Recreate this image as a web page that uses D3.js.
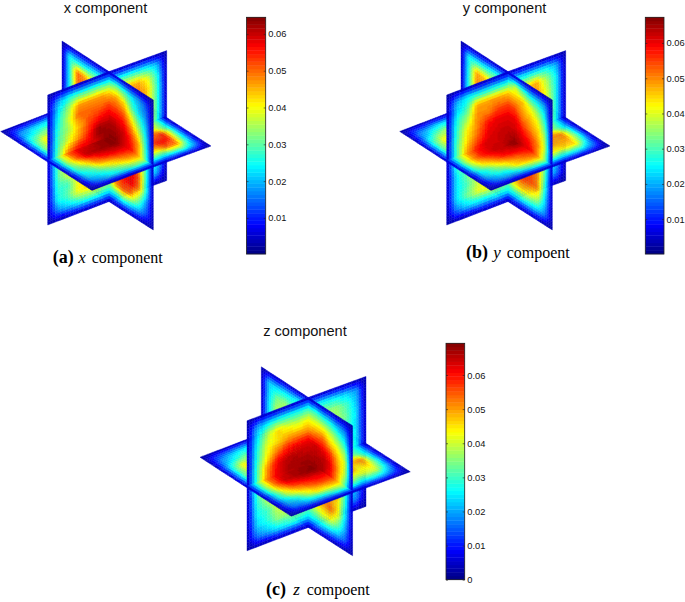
<!DOCTYPE html>
<html><head><meta charset="utf-8">
<script src="https://cdnjs.cloudflare.com/ajax/libs/d3/7.8.5/d3.min.js"></script>
<style>html,body{margin:0;padding:0;background:#fff}svg{display:block}</style>
</head><body><svg id="c" width="685" height="602"></svg>
<script>
const E=[3,3,3,3,3,3,3,3,3,3,3,3,3];
// values in thousandths
const xPlane1=[E,[3,18,25,27,27,27,27,27,27,26,25,20,3],[3,23,34,46,46,47,44,44,44,46,40,26,3],[3,25,36,50,50,50,52,50,50,50,44,28,3],[3,27,34,44,52,56,58,54,50,50,44,28,3],[3,28,38,46,54,64,62,58,52,50,44,28,3],[3,30,48,56,58,60,64,58,54,52,44,28,3],[3,30,46,54,56,60,62,58,54,50,42,27,3],[3,29,38,50,54,56,58,54,50,46,40,27,3],[3,27,28,40,46,50,50,48,46,44,36,25,3],[3,25,30,40,42,42,36,42,40,38,32,23,3],[3,17,21,25,27,27,25,27,25,25,23,18,3],E];
const xPlane2=[E,[3,25,23,23,25,25,27,32,28,23,19,13,3],[3,25,50,46,40,40,44,46,42,30,22,16,3],[3,25,50,50,44,48,52,52,50,40,30,20,3],[3,25,46,50,50,54,58,58,56,48,38,24,3],[3,27,46,50,54,58,62,62,60,54,46,26,3],[3,27,46,52,56,60,64,64,60,56,46,28,3],[3,27,44,50,54,58,62,60,58,56,46,28,3],[3,27,42,48,52,56,58,58,56,58,52,28,3],[3,25,40,46,48,52,50,52,56,58,50,26,3],[3,23,30,38,40,42,36,48,52,48,34,18,3],[3,17,21,23,25,25,25,25,28,25,21,13,3],E];
const xPlane3=[E,[3,15,19,21,23,25,25,25,23,23,21,17,3],[3,21,27,32,30,34,36,36,36,34,30,21,3],[3,27,40,42,44,46,46,46,46,44,36,25,3],[3,30,42,48,50,54,56,56,52,48,40,27,3],[3,30,44,54,58,60,62,60,56,50,40,27,3],[3,30,50,58,60,63,64,58,54,52,44,28,3],[3,32,48,60,62,63,64,60,56,50,38,27,3],[3,29,40,50,56,58,58,56,54,50,54,30,3],[3,25,30,42,46,50,52,50,52,56,54,28,3],[3,21,25,30,36,42,44,42,42,50,48,25,3],[3,15,19,23,25,29,29,27,25,27,28,19,3],E];
const yPlane1=[E,[3,19,25,25,25,25,25,25,25,25,25,20,3],[3,23,30,48,48,48,46,42,44,48,36,25,3],[3,27,36,50,50,54,54,50,46,50,40,26,3],[3,28,42,50,58,60,60,54,48,46,42,26,3],[3,30,44,52,60,62,62,58,52,48,42,26,3],[3,30,48,58,62,62,64,58,54,50,42,26,3],[3,28,36,50,56,60,62,58,54,48,40,26,3],[3,24,32,46,52,54,56,54,50,46,38,25,3],[3,24,30,38,46,48,50,48,46,42,34,23,3],[3,24,32,40,42,40,36,40,38,36,30,21,3],[3,17,22,24,24,26,25,25,25,23,21,17,3],E];
const yPlane2=[E,[3,25,25,25,27,27,28,38,30,24,22,18,3],[3,26,48,46,40,38,46,46,46,40,34,24,3],[3,27,50,48,44,46,54,54,48,46,42,30,3],[3,27,44,48,50,54,60,60,54,50,46,36,3],[3,27,44,48,54,58,62,62,60,56,50,38,3],[3,27,44,50,56,60,64,66,62,60,50,34,3],[3,27,42,48,54,58,62,62,60,58,50,32,3],[3,25,40,46,52,56,56,56,54,56,50,30,3],[3,25,38,44,48,50,50,50,56,54,50,26,3],[3,23,28,36,40,42,36,44,46,42,38,22,3],[3,17,21,23,25,25,25,25,25,25,23,17,3],E];
const yPlane3=[E,[3,15,19,23,23,25,27,25,25,23,23,17,3],[3,20,30,36,32,36,38,36,36,34,30,20,3],[3,28,42,42,44,46,46,46,46,44,36,25,3],[3,30,42,46,50,54,56,56,52,48,40,27,3],[3,30,44,52,58,60,62,60,56,50,40,27,3],[3,30,48,58,62,62,64,58,54,50,42,26,3],[3,34,50,58,62,63,67,62,56,50,34,24,3],[3,30,44,50,58,60,60,58,54,50,50,28,3],[3,24,32,42,48,52,56,54,50,48,48,30,3],[3,20,26,30,42,46,48,46,42,44,44,24,3],[3,14,18,20,24,28,30,28,26,26,24,16,3],E];
const zPlane1=[E,[3,19,25,27,27,27,28,27,27,25,23,19,3],[3,24,38,46,42,40,42,36,36,36,30,22,3],[3,27,42,46,50,50,50,44,38,38,32,24,3],[3,28,44,54,60,62,62,54,44,36,30,24,3],[3,30,50,62,66,66,65,58,48,40,32,24,3],[3,30,52,62,66,67,68,60,50,44,34,26,3],[3,30,46,56,60,64,64,58,50,42,32,24,3],[3,28,38,50,54,56,58,54,46,38,30,24,3],[3,26,30,40,46,50,50,46,42,36,28,22,3],[3,23,28,36,36,38,34,38,36,30,26,20,3],[3,17,21,25,27,27,25,25,25,23,21,17,3],E];
const zPlane2=[E,[3,23,23,25,25,27,28,30,26,24,20,16,3],[3,23,34,36,32,32,42,42,42,38,32,24,3],[3,25,38,38,36,38,50,52,54,46,42,34,3],[3,25,36,38,40,46,62,64,62,58,48,40,3],[3,25,34,40,46,54,65,66,66,62,50,38,3],[3,27,36,42,50,58,68,68,66,60,48,30,3],[3,27,36,42,48,54,64,62,60,58,48,30,3],[3,25,34,40,46,50,56,56,56,50,46,28,3],[3,23,32,38,42,46,46,50,50,54,44,24,3],[3,21,26,32,36,38,34,38,42,42,34,20,3],[3,17,21,23,23,25,25,25,25,23,21,15,3],E];
const zPlane3=[E,[3,15,19,23,25,25,25,25,23,23,21,17,3],[3,20,28,34,30,32,34,34,34,32,28,21,3],[3,28,44,40,42,44,44,44,44,42,34,25,3],[3,30,44,46,50,54,56,56,52,46,38,26,3],[3,32,48,56,60,62,64,60,56,48,38,26,3],[3,30,52,62,66,67,68,60,50,44,34,26,3],[3,32,52,64,66,68,69,60,54,46,34,25,3],[3,28,46,56,60,62,62,58,54,48,52,26,3],[3,24,38,46,52,56,56,54,52,44,46,28,3],[3,20,24,36,44,44,46,44,38,40,40,24,3],[3,14,18,22,24,28,30,28,24,26,24,16,3],E];

const colorMax=[0.0645,0.0673,0.0693];
const colorMin=[0.0002,0.0001,0];
const tickValues=[[0.01,0.02,0.03,0.04,0.05,0.06],[0.01,0.02,0.03,0.04,0.05,0.06],[0,0.01,0.02,0.03,0.04,0.05,0.06]];
const titles=["x component","y component","z component"];
const captionTags=["(a)","(b)","(c)"];
const captionVars=["x","y","z"];
const captionWords=["component","compoent","compoent"];

const layouts=[
 {cx:109,cy:136.6,bar:[246.5,265.7,17.3,254],titleX:105.5,titleY:13.4,cap:[52.7,78.3,91.7,262.7]},
 {cx:508,cy:136.6,bar:[645.3,664,17.3,254],titleX:504.6,titleY:13.4,cap:[466,493.3,506.7,258]},
 {cx:308.3,cy:462.4,bar:[446,464.7,343.3,579.7],titleX:305,titleY:336,cap:[266,293.3,306.7,595]}
];
const planes=[[xPlane1,xPlane2,xPlane3],[yPlane1,yPlane2,yPlane3],[zPlane1,zPlane2,zPlane3]];

const svg=d3.select("#c");
const defs=svg.append("defs");
defs.append("filter").attr("id","soft").attr("x","-5%").attr("y","-5%").attr("width","110%").attr("height","110%")
  .append("feGaussianBlur").attr("stdDeviation",0.45);

const jet=d3.scaleLinear().domain([0,0.125,0.375,0.625,0.875,1])
  .range(["#000080","#0000ff","#00ffff","#ffff00","#ff0000","#800000"]).clamp(true).interpolate(d3.interpolateRgb);
const jetAt=i=>jet((i+0.5)/64);

// perspective-aware projection axes (near half slightly larger than far half)
const axisU={x:d3.scaleLinear([-1,0,1],[-61.3,0,57.7]),y:d3.scaleLinear([-1,0,1],[23.4,0,-21])};
const axisV={x:d3.scaleLinear([-1,0,1],[-47,0,44.3]),y:d3.scaleLinear([-1,0,1],[-30.6,0,28.4])};
const axisW=d3.scaleLinear([-1,1],[65,-65]);
const planeDrop=[0,0,2];
const gridPos=d3.scaleLinear([0,12],[-1,1]);
const SUB=4;

function bilinear(grid,r,c){
  const r0=Math.min(Math.floor(r),11),c0=Math.min(Math.floor(c),11),fr=r-r0,fc=c-c0;
  return (grid[r0][c0]*(1-fr)*(1-fc)+grid[r0][c0+1]*(1-fr)*fc+grid[r0+1][c0]*fr*(1-fc)+grid[r0+1][c0+1]*fr*fc)/1000;
}
const mapPlane=[
  (r,c)=>({u:gridPos(c),v:0,w:-gridPos(r)}),
  (r,c)=>({u:0,v:gridPos(c),w:-gridPos(r)}),
  (r,c)=>({u:gridPos(c),v:gridPos(r),w:0})
];

planes.forEach((grids,pi)=>{
  const L=layouts[pi];
  const g=svg.append("g").attr("filter","url(#soft)");
  const sx=p=>L.cx+axisU.x(p.u)+axisV.x(p.v);
  const sy=(p,k)=>L.cy+axisU.y(p.u)+axisV.y(p.v)+axisW(p.w)+planeDrop[k];
  const color=d3.scaleLinear([colorMin[pi],colorMax[pi]],[0,63.999]).clamp(true);
  const cells=[];
  grids.forEach((grid,k)=>{
    const map=mapPlane[k];
    for(let r=0;r<12*SUB;r++)for(let c=0;c<12*SUB;c++){
      const r0=r/SUB,r1=(r+1)/SUB,c0=c/SUB,c1=(c+1)/SUB;
      const mid=map((r0+r1)/2,(c0+c1)/2);
      const score=(mid.u<0?1:0)+(mid.v>0?1:0)+(mid.w>0?1:0);
      const val=bilinear(grid,(r0+r1)/2,(c0+c1)/2);
      const pts=[map(r0,c0),map(r0,c1),map(r1,c1),map(r1,c0)];
      cells.push({score,val,pts,k});
    }
  });
  cells.sort((a,b)=>a.score-b.score);
  g.selectAll("polygon").data(cells).join("polygon")
    .attr("points",d=>d.pts.map(p=>sx(p).toFixed(2)+","+sy(p,d.k).toFixed(2)).join(" "))
    .attr("fill",d=>jetAt(Math.floor(color(d.val))))
    .attr("stroke",d=>jetAt(Math.floor(color(d.val))))
    .attr("stroke-width",0.4);

  const [x0,x1,y0,y1]=L.bar;
  const yScale=d3.scaleLinear([colorMin[pi],colorMax[pi]],[y1,y0]);
  const band=d3.scaleBand(d3.range(64),[y1,y0]);
  svg.append("g").attr("filter","url(#soft)").selectAll("rect").data(d3.range(64)).join("rect")
    .attr("x",x0).attr("width",x1-x0).attr("y",i=>band(i)-0.2).attr("height",band.bandwidth()+0.4).attr("fill",jetAt);
  svg.append("rect").attr("x",x0).attr("y",y0).attr("width",x1-x0).attr("height",y1-y0)
    .attr("fill","none").attr("stroke","#222").attr("stroke-width",0.8);
  const axis=d3.axisRight(yScale).tickValues(tickValues[pi]).tickSize(-2).tickPadding(2.6)
    .tickFormat(d=>d===0?"0":d3.format(".2f")(d));
  const ag=svg.append("g").attr("transform",`translate(${x1},0)`).call(axis);
  ag.select(".domain").remove();
  ag.selectAll("line").attr("stroke","#222").attr("stroke-width",0.6);
  ag.selectAll("text").attr("font-family","'Liberation Sans',Arial,sans-serif").attr("font-size",9.3).attr("fill","#111");
  const al=svg.append("g").attr("transform",`translate(${x0},0)`).call(d3.axisLeft(yScale).tickValues(tickValues[pi]).tickSize(-2).tickFormat(""));
  al.select(".domain").remove();
  al.selectAll("line").attr("stroke","#222").attr("stroke-width",0.6);

  svg.append("text").attr("x",L.titleX).attr("y",L.titleY).attr("text-anchor","middle")
    .attr("font-family","'Liberation Sans',Arial,sans-serif").attr("font-size",14.6).attr("fill","#111").text(titles[pi]);
  const [cxTag,cxVar,cxWord,cy]=L.cap;
  svg.append("text").attr("x",cxTag).attr("y",cy).attr("font-family","'Liberation Serif',serif").attr("font-weight","bold")
    .attr("font-size",18).attr("fill","#000").text(captionTags[pi]);
  svg.append("text").attr("x",cxVar).attr("y",cy).attr("font-family","'Liberation Serif',serif").attr("font-style","italic")
    .attr("font-size",17).attr("fill","#000").text(captionVars[pi]);
  svg.append("text").attr("x",cxWord).attr("y",cy).attr("font-family","'Liberation Serif',serif")
    .attr("font-size",16).attr("fill","#000").text(captionWords[pi]);
});
</script></body></html>
